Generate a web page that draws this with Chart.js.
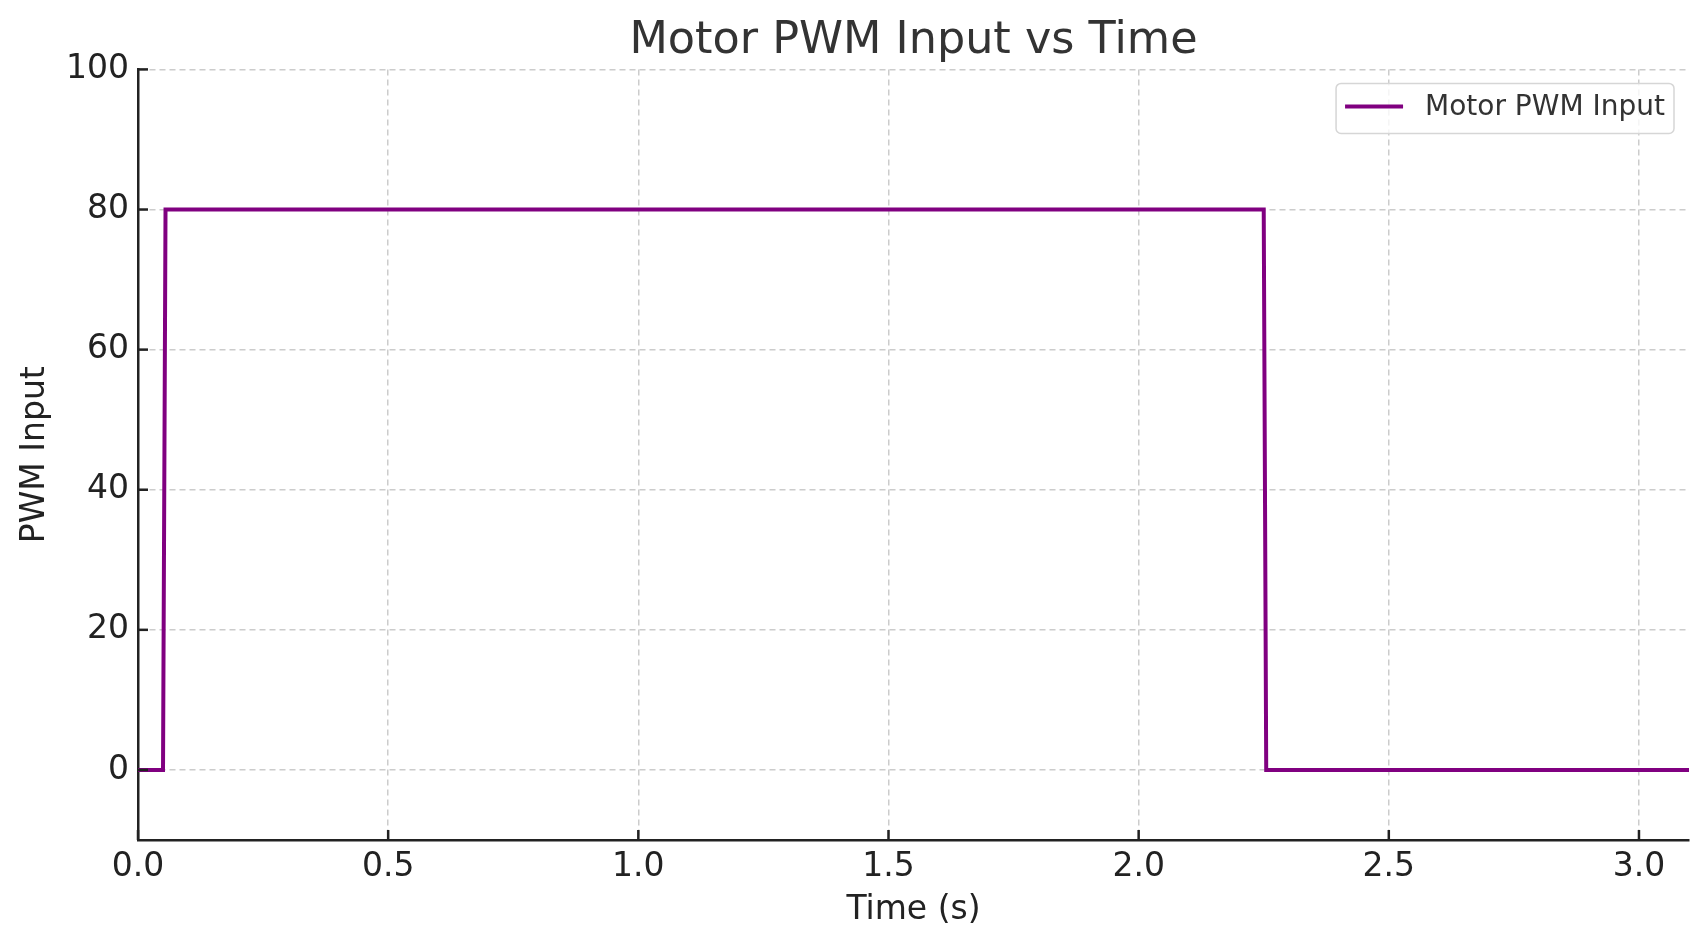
<!DOCTYPE html>
<html>
<head>
<meta charset="utf-8">
<script src="https://cdn.jsdelivr.net/npm/chart.js@4/dist/chart.umd.min.js"></script>
<style>
  body { margin: 0; background: #fff; }
  #wrap { width: 1707px; height: 947px; }
</style>
</head>
<body>
<div id="wrap"><canvas id="c"></canvas></div>
<script>
// time in seconds and the PWM value held at that time
const times = [0, 0.05, 0.055, 2.25, 2.255, 3.1];
const pwm = [0, 0, 80, 80, 0, 0];
const seriesLabel = 'Motor PWM Input';

const font = 'DejaVu Sans';
const gridStyle = { color: '#cccccc', lineWidth: 1.5, drawTicks: false };

// matplotlib style ticks pointing into the plot
const innerTicks = {
  id: 'innerTicks',
  afterDraw(chart) {
    const ctx = chart.ctx, a = chart.chartArea;
    ctx.save();
    ctx.strokeStyle = '#222';
    ctx.lineWidth = 2.5;
    chart.scales.x.ticks.forEach(t => {
      const px = chart.scales.x.getPixelForValue(t.value);
      ctx.beginPath(); ctx.moveTo(px, a.bottom); ctx.lineTo(px, a.bottom - 10); ctx.stroke();
    });
    chart.scales.y.ticks.forEach(t => {
      const py = chart.scales.y.getPixelForValue(t.value);
      ctx.beginPath(); ctx.moveTo(a.left, py); ctx.lineTo(a.left + 10, py); ctx.stroke();
    });
    ctx.restore();
  }
};

// framed legend in the top right corner of the plot
const boxLegend = {
  id: 'boxLegend',
  afterDraw(chart) {
    const ctx = chart.ctx, a = chart.chartArea;
    const ds = chart.data.datasets[0];
    ctx.save();
    ctx.font = '28px "' + font + '"';
    const tw = ctx.measureText(ds.label).width;
    const w = 89 + tw + 9, h = 50;
    const x = a.right - 15 - w, y = a.top + 14;
    ctx.beginPath();
    ctx.roundRect(x, y, w, h, 5);
    ctx.fillStyle = 'rgba(255,255,255,0.8)';
    ctx.fill();
    ctx.strokeStyle = '#d6d6d6';
    ctx.lineWidth = 1.5;
    ctx.stroke();
    ctx.beginPath();
    ctx.moveTo(x + 9, y + 23); ctx.lineTo(x + 67, y + 23);
    ctx.strokeStyle = ds.borderColor; ctx.lineWidth = ds.borderWidth;
    ctx.stroke();
    ctx.fillStyle = '#333';
    ctx.textBaseline = 'middle';
    ctx.fillText(ds.label, x + 89, y + 24);
    ctx.restore();
  }
};

new Chart(document.getElementById('c'), {
  type: 'line',
  data: {
    datasets: [{
      label: seriesLabel,
      data: times.map((t, i) => ({ x: t, y: pwm[i] })),
      borderColor: '#800080',
      borderWidth: 4,
      pointRadius: 0,
      tension: 0,
      fill: false
    }]
  },
  options: {
    responsive: true,
    maintainAspectRatio: false,
    animation: false,
    layout: { padding: { left: 0, right: 18, top: 0, bottom: 0 } },
    plugins: {
      legend: { display: false },
      tooltip: { enabled: false },
      title: {
        display: true,
        text: 'Motor PWM Input vs Time',
        fullSize: false,
        color: '#333',
        font: { family: font, size: 44.5, weight: 'normal' },
        padding: { top: 15, bottom: 1 }
      }
    },
    scales: {
      x: {
        type: 'linear',
        min: 0,
        max: 3.1,
        grid: gridStyle,
        border: { color: '#222', width: 2.5, dash: [6, 4] },
        ticks: {
          stepSize: 0.5,
          includeBounds: false,
          padding: 8,
          color: '#222',
          maxRotation: 0,
          font: { family: font, size: 33 },
          callback: v => Number(v).toFixed(1)
        },
        title: {
          display: true,
          text: 'Time (s)',
          color: '#222',
          font: { family: font, size: 33 },
          padding: { top: 0, bottom: 17 }
        },
        afterFit(s) { s.height = 107; s.paddingLeft = 0; s.paddingRight = 0; }
      },
      y: {
        min: -10,
        max: 100,
        grid: gridStyle,
        border: { color: '#222', width: 2.5, dash: [6, 4] },
        ticks: {
          stepSize: 20,
          includeBounds: false,
          padding: 9,
          color: '#222',
          font: { family: font, size: 33 }
        },
        title: {
          display: true,
          text: 'PWM Input',
          color: '#222',
          font: { family: font, size: 33 },
          padding: { top: 16, bottom: 0 }
        },
        afterFit(s) { s.width = 138; s.paddingTop = 0; s.paddingBottom = 0; }
      }
    }
  },
  plugins: [innerTicks, boxLegend]
});
</script>
</body>
</html>
